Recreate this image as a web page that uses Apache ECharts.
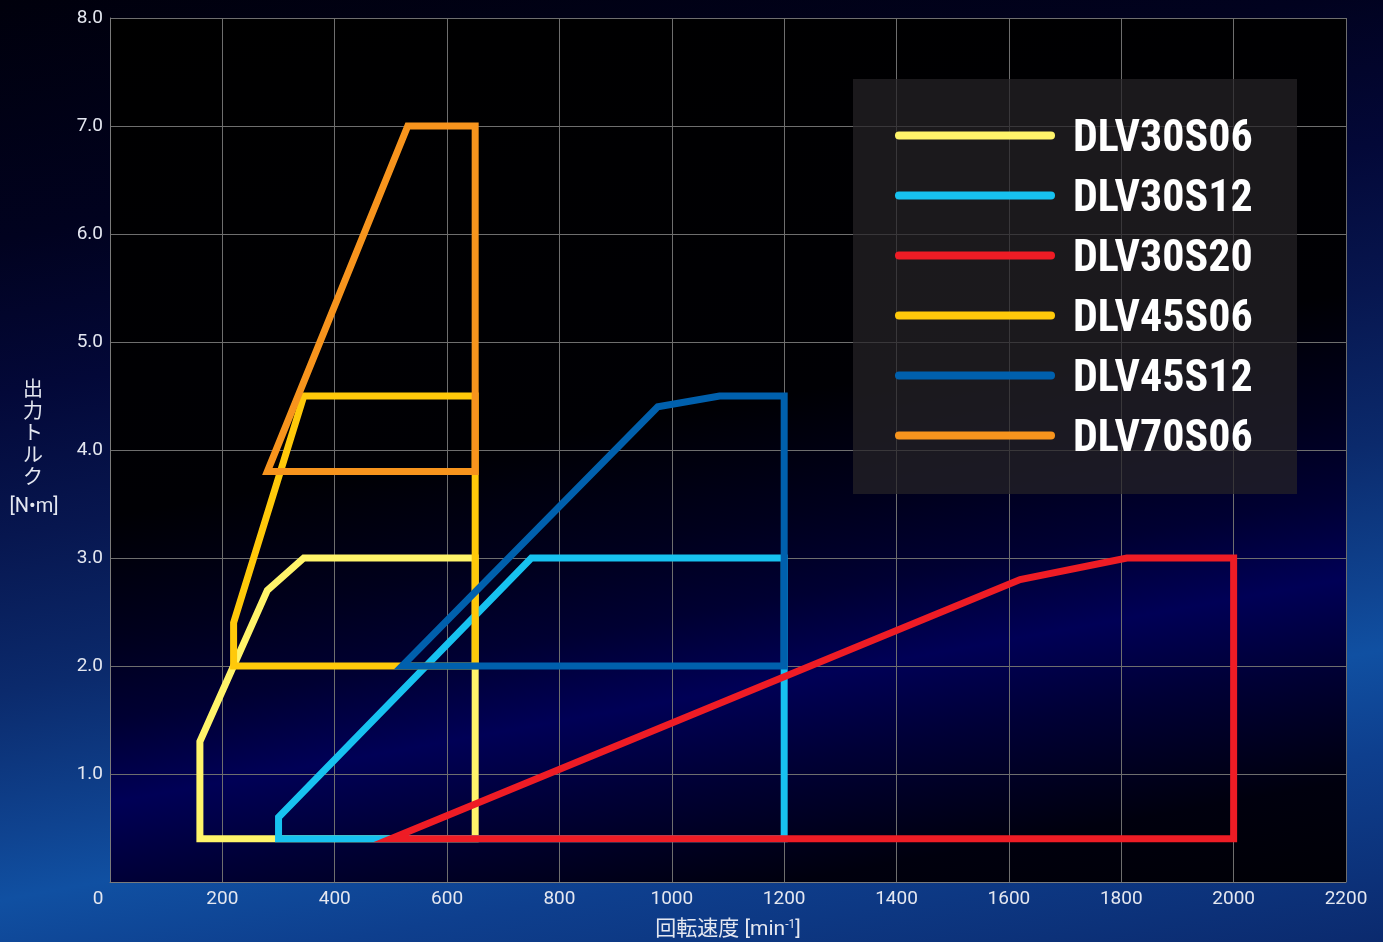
<!DOCTYPE html>
<html><head><meta charset="utf-8">
<script src="https://cdn.jsdelivr.net/npm/echarts@6/dist/echarts.min.js"></script>
<style>
html,body{margin:0;padding:0;width:1383px;height:942px;overflow:hidden;
background:linear-gradient(169.75deg,#00000c 0%,#01021f 20%,#030838 33%,#07164f 45%,#0b2a6c 58%,#0f4390 70%,#1050a2 75.5%,#0e3f8e 84%,#0b2a6e 100%);}
#c{width:1383px;height:942px;}
</style></head><body><div id="c"></div>
<script>
// ---- data ----
const seriesNames = ['DLV30S06', 'DLV30S12', 'DLV30S20', 'DLV45S06', 'DLV45S12', 'DLV70S06'];
const DLV30S06 = [[650, 0.4], [160, 0.4], [160, 1.3], [280, 2.7], [345, 3.0], [650, 3.0], [650, 0.4]];
const DLV30S12 = [[1200, 0.4], [300, 0.4], [300, 0.6], [750, 3.0], [1200, 3.0], [1200, 0.4]];
const DLV30S20 = [[2000, 0.4], [500, 0.4], [1620, 2.8], [1810, 3.0], [2000, 3.0], [2000, 0.4]];
const DLV45S06 = [[650, 2.0], [220, 2.0], [220, 2.4], [345, 4.5], [650, 4.5], [650, 2.0]];
const DLV45S12 = [[1200, 2.0], [520, 2.0], [975, 4.4], [1085, 4.5], [1200, 4.5], [1200, 2.0]];
const DLV70S06 = [[650, 3.8], [280, 3.8], [530, 7.0], [650, 7.0], [650, 3.8]];
const xTickValues = [0, 200, 400, 600, 800, 1000, 1200, 1400, 1600, 1800, 2000, 2200];
const yTickLabels = ['', '1.0', '2.0', '3.0', '4.0', '5.0', '6.0', '7.0', '8.0'];
const xTitleMain = '回転速度 [min';
const xTitleSup = '-1';
const xTitleEnd = ']';
const yTitleChars = ['出', '力', 'ト', 'ル', 'ク'];
const yTitleUnit = '[N•m]';

// ---- styles ----
const colors = ['#fff46a', '#17c2f0', '#ee1c25', '#ffc90a', '#0060ad', '#f7941d'];
const dataList = [DLV30S06, DLV30S12, DLV30S20, DLV45S06, DLV45S12, DLV70S06];
const labelColor = '#e4e7f0';
const baseFont = 'Roboto, "Noto Sans CJK JP", sans-serif';
const legendFont = '"Liberation Sans Narrow", "Roboto Condensed", "DejaVu Sans Condensed", Roboto, sans-serif';

const plotBg = {
  type: 'linear', x: 0, y: 0, x2: 209, y2: 1154, global: true,
  colorStops: [
    {offset: 0, color: '#000000'}, {offset: 0.45, color: '#000004'},
    {offset: 0.55, color: '#00001c'}, {offset: 0.62, color: '#000032'},
    {offset: 0.69, color: '#000056'}, {offset: 0.76, color: '#000036'},
    {offset: 0.86, color: '#00000e'}, {offset: 1, color: '#000000'}
  ]
};

const chart = echarts.init(document.getElementById('c'), null, {renderer: 'canvas'});
const option = {
  backgroundColor: 'transparent',
  animation: false,
  grid: {left: 110, right: 37, top: 18, bottom: 60, show: true, backgroundColor: plotBg, borderWidth: 0,
    containLabel: false, outerBoundsMode: 'none'},
  xAxis: {
    type: 'value', min: xTickValues[0], max: xTickValues[xTickValues.length - 1], interval: xTickValues[1] - xTickValues[0],
    axisLine: {show: true, lineStyle: {color: '#7a7a7a', width: 1}},
    axisTick: {show: false},
    splitLine: {show: true, lineStyle: {color: '#6e6e6e', width: 1}},
    axisLabel: {color: labelColor, fontSize: 19, fontFamily: baseFont, margin: 8,
      formatter: function (v) { return v === 0 ? '{z|' + v + '}' : String(v); },
      rich: {z: {color: labelColor, fontSize: 19, fontFamily: baseFont, padding: [0, 24, 0, 0]}}},
    name: '{a|' + xTitleMain + '}{s|' + xTitleSup + '}{a|' + xTitleEnd + '}',
    nameLocation: 'middle', nameGap: 37,
    nameTextStyle: {
      rich: {
        a: {fontSize: 21, color: labelColor, fontFamily: baseFont},
        s: {fontSize: 12, color: labelColor, fontFamily: baseFont, padding: [0, 0, 9, 0]}
      }
    }
  },
  yAxis: {
    type: 'value', min: 0, max: 8, interval: 1,
    axisLine: {show: true, lineStyle: {color: '#7a7a7a', width: 1}},
    axisTick: {show: false},
    splitLine: {show: true, lineStyle: {color: '#6e6e6e', width: 1}},
    axisLabel: {color: labelColor, fontSize: 19, fontFamily: baseFont, margin: 7,
      formatter: function (v) { return yTickLabels[Math.round(v)]; }}
  },
  legend: {
    data: seriesNames,
    orient: 'vertical', left: 895, top: 117, padding: 0,
    icon: 'path://M4,0H156A4,4,0,0,1,156,8H4A4,4,0,0,1,4,0Z M0,17L0,17',
    itemWidth: 160, itemHeight: 17, itemGap: 14,
    itemStyle: {borderWidth: 0},
    selectedMode: false,
    textStyle: {color: '#ffffff', fontSize: 44, lineHeight: 46, fontWeight: 'bold', fontFamily: legendFont, padding: [0, 0, 0, 13]}
  },
  graphic: [
    {type: 'rect', z: 1, shape: {x: 853, y: 79, width: 444, height: 415}, style: {fill: 'rgba(37,35,39,0.72)'}, silent: true},
    {type: 'text', z: 5, style: {text: yTitleChars.join('\n'), x: 33, y: 435, fill: labelColor, fontSize: 20, lineHeight: 22,
      fontFamily: baseFont, align: 'center', verticalAlign: 'middle', textAlign: 'center', textVerticalAlign: 'middle'}},
    {type: 'text', z: 5, style: {text: yTitleUnit, x: 34, y: 507, fill: labelColor, fontSize: 20,
      fontFamily: baseFont, align: 'center', verticalAlign: 'middle', textAlign: 'center', textVerticalAlign: 'middle'}}
  ],
  series: seriesNames.map(function (n, i) {
    return {
      name: n, type: 'line', data: dataList[i], z: i === 5 ? 3 : 2,
      color: colors[i], symbol: 'none', showSymbol: false,
      lineStyle: {color: colors[i], width: 7, join: 'miter', cap: 'square', miterLimit: 10}
    };
  })
};
chart.setOption(option);
</script></body></html>
